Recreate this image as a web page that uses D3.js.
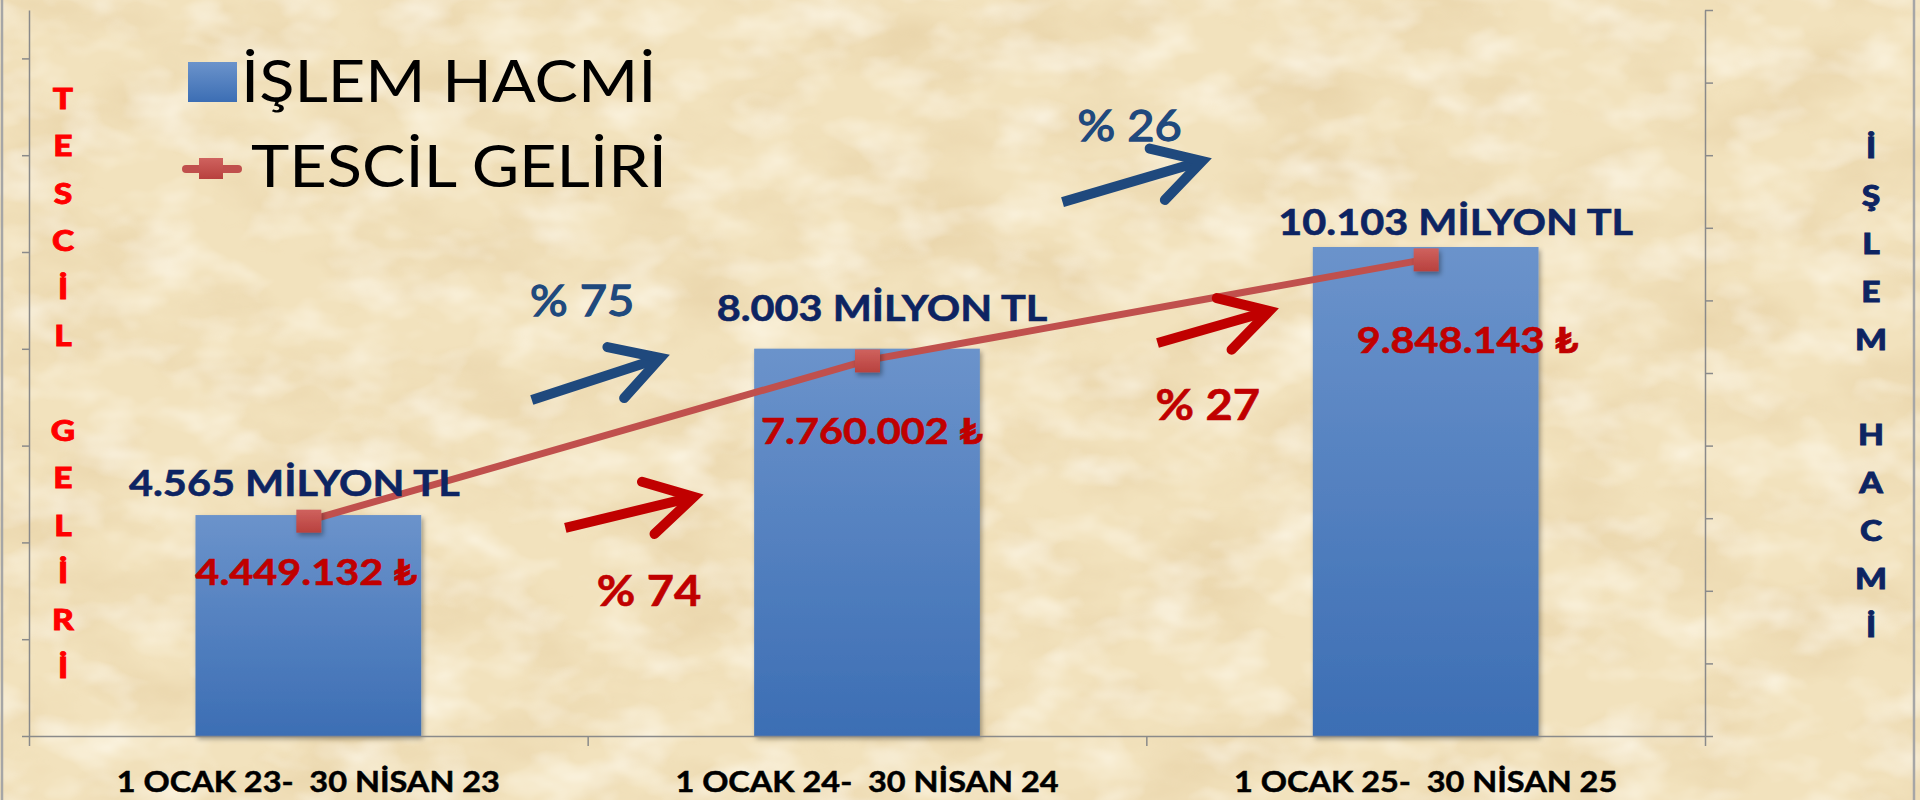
<!DOCTYPE html>
<html>
<head>
<meta charset="utf-8">
<script src="https://cdnjs.cloudflare.com/ajax/libs/d3/7.8.5/d3.min.js"></script>
<style>
  html, body { margin: 0; padding: 0; background: #f2e2bd; }
  svg { display: block; }
  text { font-family: Lato, "Open Sans", sans-serif; white-space: pre; }
  .axis path, .axis line { stroke: #8a8a8a; stroke-width: 1.5; }
</style>
</head>
<body>
<svg id="chart"></svg>
<script>
// chart data
var categories = ["1 OCAK 23-  30 NİSAN 23", "1 OCAK 24-  30 NİSAN 24", "1 OCAK 25-  30 NİSAN 25"];
var islemHacmi = [4.565, 8.003, 10.103];          // milyon TL (right axis)
var tescilGeliri = [4449132, 7760002, 9848143];   // TL (left axis)
var seriesNames = ["İŞLEM HACMİ", "TESCİL GELİRİ"];
var leftTitle = "TESCİL GELİRİ";
var rightTitle = "İŞLEM HACMİ";
var leftTicks = [0, 2000000, 4000000, 6000000, 8000000, 10000000, 12000000, 14000000];
var rightTicks = [0, 1.5, 3, 4.5, 6, 7.5, 9, 10.5, 12, 13.5, 15];

// label placement (pixels, relative to bar top / line point) - moved by hand in the original
var hacimLabelOffset = [[-14, -19], [15, -28], [30, -12]];
var gelirLabelOffset = [[-2, 64], [5, 84], [42, 94]];
// arrows + % labels, in chart units (x = category position, y = right axis value)
var hacimArrows = [{tail: [0.40, 6.94], tip: [0.63, 7.81], label: [0.49, 8.68]},
                   {tail: [1.35, 11.03], tip: [1.60, 11.88], label: [1.47, 12.29]}];
var gelirArrows = [{tail: [0.46, 4.30], tip: [0.69, 4.94], label: [0.61, 2.69]},
                   {tail: [1.52, 8.12], tip: [1.72, 8.78], label: [1.61, 6.53]}];

var width = 1920, height = 800;
var margin = {top: 10, left: 29, right: 215, bottom: 64};
var stretch = 1.12; // text in the original is a bit wide

var svg = d3.select("#chart").attr("width", width).attr("height", height);
var defs = svg.append("defs");

// parchment background
var paper = defs.append("filter").attr("id", "paper").attr("x", 0).attr("y", 0).attr("width", 1).attr("height", 1);
paper.append("feTurbulence").attr("type", "fractalNoise").attr("baseFrequency", "0.008 0.014")
  .attr("numOctaves", 4).attr("seed", 7).attr("result", "n1");
paper.append("feColorMatrix").attr("in", "n1").attr("type", "matrix")
  .attr("values", "0 0 0 0 0.80  0 0 0 0 0.64  0 0 0 0 0.38  1.6 0 0 0 -0.66").attr("result", "dark");
paper.append("feTurbulence").attr("type", "fractalNoise").attr("baseFrequency", "0.015 0.025")
  .attr("numOctaves", 3).attr("seed", 21).attr("result", "n2");
paper.append("feColorMatrix").attr("in", "n2").attr("type", "matrix")
  .attr("values", "0 0 0 0 1  0 0 0 0 0.97  0 0 0 0 0.88  1.4 0 0 0 -0.62").attr("result", "light");
paper.append("feMerge").selectAll("feMergeNode").data(["dark", "light"]).enter()
  .append("feMergeNode").attr("in", function(d) { return d; });

var barGrad = defs.append("linearGradient").attr("id", "barGrad").attr("x1", 0).attr("y1", 0).attr("x2", 0).attr("y2", 1);
barGrad.append("stop").attr("offset", "0%").attr("stop-color", "#6b93cb");
barGrad.append("stop").attr("offset", "100%").attr("stop-color", "#3c6eb4");

var mkGrad = defs.append("linearGradient").attr("id", "mkGrad").attr("x1", 0).attr("y1", 0).attr("x2", 0).attr("y2", 1);
mkGrad.append("stop").attr("offset", "0%").attr("stop-color", "#cf625e");
mkGrad.append("stop").attr("offset", "100%").attr("stop-color", "#b8413e");

var shadow = defs.append("filter").attr("id", "shadow").attr("x", "-20%").attr("y", "-20%").attr("width", "150%").attr("height", "150%");
shadow.append("feDropShadow").attr("dx", 2).attr("dy", 3).attr("stdDeviation", 2.5)
  .attr("flood-color", "#000").attr("flood-opacity", 0.35);

svg.append("rect").attr("width", width).attr("height", height).attr("fill", "#f2e2bd");
svg.append("rect").attr("width", width).attr("height", height).attr("filter", "url(#paper)");

// frame sides
svg.selectAll("line.frame").data([2, 1914]).enter().append("line")
  .attr("class", "frame")
  .attr("x1", function(d) { return d; }).attr("x2", function(d) { return d; })
  .attr("y1", 0).attr("y2", height)
  .attr("stroke", "#a6a6a6").attr("stroke-width", 2.5);

var x0 = margin.left, x1 = width - margin.right, yBase = height - margin.bottom;

var x = d3.scaleBand().domain(categories).range([x0, x1]).paddingInner(0.596).paddingOuter(0.298);
var xPos = d3.scaleLinear().domain([-0.5, 2.5]).range([x0, x1]);
var yL = d3.scaleLinear().domain([0, 15000000]).range([yBase, margin.top]);
var yR = d3.scaleLinear().domain([0, 15]).range([yBase, margin.top]);
var cx = function(i) { return x(categories[i]) + x.bandwidth() / 2; };

// axes
svg.append("g").attr("class", "axis")
  .attr("transform", "translate(" + x0 + ",0)")
  .call(d3.axisLeft(yL).tickValues(leftTicks).tickSize(7).tickSizeOuter(0).tickFormat(""));
svg.append("g").attr("class", "axis")
  .attr("transform", "translate(" + x1 + ",0)")
  .call(d3.axisRight(yR).tickValues(rightTicks).tickSize(8).tickSizeOuter(0).tickFormat(""));

// bars
svg.selectAll("rect.bar").data(islemHacmi).enter().append("rect")
  .attr("class", "bar")
  .attr("x", function(d, i) { return x(categories[i]); })
  .attr("width", x.bandwidth())
  .attr("y", function(d) { return yR(d); })
  .attr("height", function(d) { return yBase - yR(d); })
  .attr("fill", "url(#barGrad)")
  .attr("filter", "url(#shadow)");

svg.append("g").attr("class", "axis")
  .attr("transform", "translate(0," + yBase + ")")
  .call(d3.axisBottom(xPos).tickValues([-0.5, 0.5, 1.5, 2.5]).tickSize(10).tickSizeOuter(0).tickFormat(""));

// tescil geliri line
var line = d3.line()
  .x(function(d, i) { return cx(i); })
  .y(function(d) { return yL(d); });

svg.append("path").datum(tescilGeliri)
  .attr("d", line)
  .attr("fill", "none")
  .attr("stroke", "#c0504d")
  .attr("stroke-width", 7);

svg.selectAll("rect.pt").data(tescilGeliri).enter().append("rect")
  .attr("class", "pt")
  .attr("x", function(d, i) { return cx(i) - 12; })
  .attr("y", function(d) { return yL(d) - 11; })
  .attr("width", 25).attr("height", 23)
  .attr("fill", "url(#mkGrad)")
  .attr("filter", "url(#shadow)");

// text helper, stretched horizontally around its anchor
function label(g, px, py, txt, size, weight, color, anchor, sx) {
  return g.append("text")
    .attr("transform", "translate(" + px + "," + py + ") scale(" + (sx || stretch) + ",1)")
    .attr("text-anchor", anchor || "middle")
    .attr("font-size", size)
    .attr("font-weight", weight)
    .attr("fill", color)
    .text(txt);
}

var tr = d3.formatLocale({decimal: ",", thousands: ".", grouping: [3], currency: ["", ""]});
var fmtTL = tr.format(",");
var pct = function(a, b) { return "% " + Math.round((b / a - 1) * 100); };

var labels = svg.append("g");

islemHacmi.forEach(function(d, i) {
  label(labels, cx(i) + hacimLabelOffset[i][0], yR(d) + hacimLabelOffset[i][1],
    d.toFixed(3) + " MİLYON TL", 37, "bold", "#0d2462")
    .attr("stroke", "#0d2462").attr("stroke-width", 0.6);
});
tescilGeliri.forEach(function(d, i) {
  label(labels, cx(i) + gelirLabelOffset[i][0], yL(d) + gelirLabelOffset[i][1],
    fmtTL(d) + " ₺", 37, "bold", "#c00000")
    .attr("stroke", "#c00000").attr("stroke-width", 0.6);
});

// arrows
function arrow(a, color) {
  var t0 = [xPos(a.tail[0]), yR(a.tail[1])], t1 = [xPos(a.tip[0]), yR(a.tip[1])];
  var ang = Math.atan2(t0[1] - t1[1], t0[0] - t1[0]);
  var len = 54, spread = 0.52;
  var h1 = [t1[0] + len * Math.cos(ang + spread), t1[1] + len * Math.sin(ang + spread)];
  var h2 = [t1[0] + len * Math.cos(ang - spread), t1[1] + len * Math.sin(ang - spread)];
  svg.append("path")
    .attr("d", "M" + t0 + "L" + t1)
    .attr("stroke", color).attr("stroke-width", 10).attr("fill", "none");
  svg.append("path")
    .attr("d", "M" + h1 + "L" + t1 + "L" + h2)
    .attr("stroke", color).attr("stroke-width", 10).attr("fill", "none")
    .attr("stroke-linecap", "round").attr("stroke-linejoin", "miter");
}

hacimArrows.forEach(function(a, i) {
  arrow(a, "#1f497d");
  label(labels, xPos(a.label[0]), yR(a.label[1]), pct(islemHacmi[i], islemHacmi[i + 1]), 42, "normal", "#1f497d")
    .attr("stroke", "#1f497d").attr("stroke-width", 1.3);
});
gelirArrows.forEach(function(a, i) {
  arrow(a, "#c00000");
  label(labels, xPos(a.label[0]), yR(a.label[1]), pct(tescilGeliri[i], tescilGeliri[i + 1]), 42, "bold", "#c00000")
    .attr("stroke", "#c00000").attr("stroke-width", 0.6);
});

// category labels
categories.forEach(function(c, i) {
  label(labels, cx(i), 792, c, 29, "bold", "#000").attr("stroke", "#000").attr("stroke-width", 0.5);
});

// vertical axis titles, one letter per line
function vTitle(txt, px, py, step, color) {
  txt.split("").forEach(function(ch, i) {
    if (ch === " ") return;
    label(svg, px, py + i * step, ch, 28, "900", color, "middle", 1.2)
      .attr("dy", "0.36em")
      .attr("stroke", color).attr("stroke-width", 0.8);
  });
}
vTitle(leftTitle, 63, 99, 47.4, "#ff0000");
vTitle(rightTitle, 1871, 148, 47.9, "#0d2462");

// legend
var legend = svg.append("g");
legend.append("rect").attr("x", 188).attr("y", 62).attr("width", 49).attr("height", 40).attr("fill", "url(#barGrad)");
legend.append("line").attr("x1", 186).attr("x2", 238).attr("y1", 169).attr("y2", 169)
  .attr("stroke", "#c0504d").attr("stroke-width", 8).attr("stroke-linecap", "round");
legend.append("rect").attr("x", 199).attr("y", 158).attr("width", 24).attr("height", 21).attr("fill", "url(#mkGrad)");
label(legend, 241, 102, seriesNames[0], 58, "normal", "#000", "start");
label(legend, 251, 187, seriesNames[1], 58, "normal", "#000", "start");
</script>
</body>
</html>
